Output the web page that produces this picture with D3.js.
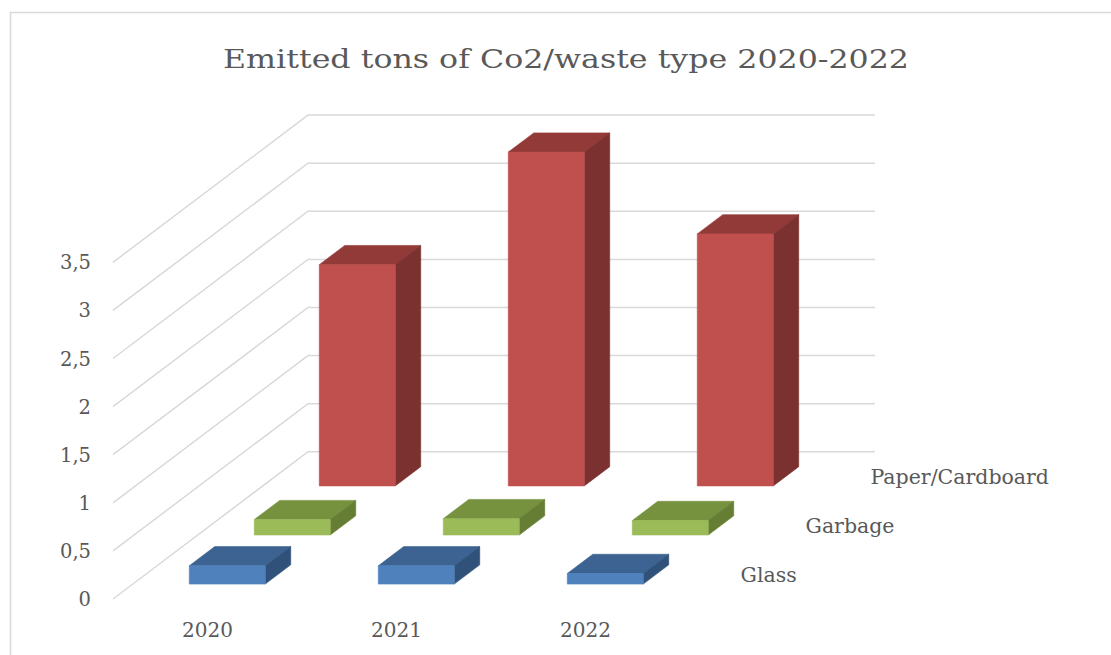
<!DOCTYPE html>
<html>
<head>
<meta charset="utf-8">
<script src="https://cdn.jsdelivr.net/npm/d3@7"></script>
<style>
  html, body { margin: 0; padding: 0; background: #fff; }
  svg { display: block; }
</style>
</head>
<body>
<svg id="chart" width="1111" height="655"></svg>
<script>
// ---- data ----
const years = ["2020", "2021", "2022"];
const seriesNames = ["Glass", "Garbage", "Paper/Cardboard"];
const glass = [0.19, 0.19, 0.11];
const garbage = [0.16, 0.17, 0.15];
const paper = [2.30, 3.47, 2.62];
const yTicks = [0, 0.5, 1, 1.5, 2, 2.5, 3, 3.5];
const yTickLabels = ["0", "0,5", "1", "1,5", "2", "2,5", "3", "3,5"];
const titleText = "Emitted tons of Co2/waste type 2020-2022";

// ---- styles ----
const colors = {
  "Glass": { front: "#4F81BD", top: "#3C6391", side: "#30527A" },
  "Garbage": { front: "#9BBB59", top: "#77923F", side: "#657E33" },
  "Paper/Cardboard": { front: "#C0504D", top: "#923A38", side: "#7B3130" }
};
const textColor = "#595959";
const gridColor = "#D9D9D9";
const fontFamily = "'DejaVu Serif', 'Liberation Serif', serif";

// ---- layout ----
const originX = 113, originY = 599;   // front-left floor corner
const plotW = 567;                    // front width
const depthW = 195;                   // total depth (in x units)
const depthSlope = 0.755;             // y rise per depth unit
const plotH = 336.7;

const svg = d3.select("#chart");

const x = d3.scaleBand(years, [0, plotW]).paddingInner(0.598).paddingOuter(0.299);
const z = d3.scaleBand(seriesNames, [0, depthW]).paddingInner(0.608).paddingOuter(0.304);
const y = d3.scaleLinear([0, 3.5], [0, plotH]);

function proj(px, v, d) {
  return [originX + px + d, originY - y(v) - d * depthSlope];
}

// chart border
svg.append("path")
  .attr("d", `M10.5,700 L10.5,12.5 L1200,12.5`)
  .attr("fill", "none")
  .attr("stroke", gridColor)
  .attr("stroke-width", 1.5);

// title
const title = svg.append("text")
  .attr("x", 566)
  .attr("y", 68)
  .attr("text-anchor", "middle")
  .attr("font-family", fontFamily)
  .attr("font-size", 26)
  .attr("fill", textColor)
  .text(titleText);
const tw = title.node().getComputedTextLength();
if (Math.abs(tw - 686) > 4) title.attr("textLength", 686).attr("lengthAdjust", "spacingAndGlyphs");

// gridlines on side wall + back wall
const grid = svg.append("g");
yTicks.forEach(t => {
  const a = proj(0, t, 0);
  const b = proj(0, t, depthW);
  const c = proj(plotW, t, depthW);
  grid.append("path")
    .attr("d", d3.line()([a, b, c]))
    .attr("fill", "none")
    .attr("stroke", gridColor)
    .attr("stroke-width", 1.5);
});

// y tick labels
svg.append("g").selectAll("text")
  .data(yTicks)
  .join("text")
  .attr("x", originX - 22)
  .attr("y", t => proj(0, t, 0)[1])
  .attr("dy", "0.36em")
  .attr("text-anchor", "end")
  .attr("font-family", fontFamily)
  .attr("font-size", 19.5)
  .attr("fill", textColor)
  .text((t, i) => yTickLabels[i]);

// category labels
svg.append("g").selectAll("text")
  .data(years)
  .join("text")
  .attr("x", yr => proj(x(yr) + x.bandwidth() / 2, 0, 0)[0])
  .attr("y", originY + 38)
  .attr("text-anchor", "middle")
  .attr("font-family", fontFamily)
  .attr("font-size", 20)
  .attr("fill", textColor)
  .text(yr => yr);

// series labels (depth axis)
svg.append("g").selectAll("text")
  .data(seriesNames)
  .join("text")
  .attr("x", s => proj(plotW, 0, z(s) + z.bandwidth() / 2)[0] + 28)
  .attr("y", s => proj(plotW, 0, z(s) + z.bandwidth() / 2)[1])
  .attr("dy", "0.36em")
  .attr("text-anchor", "start")
  .attr("font-family", fontFamily)
  .attr("font-size", 20.5)
  .attr("fill", textColor)
  .text(s => s);

// bars (back to front)
const valuesBySeries = { "Glass": glass, "Garbage": garbage, "Paper/Cardboard": paper };
const bars = [];
seriesNames.forEach(s => {
  years.forEach((yr, i) => bars.push({ series: s, year: yr, value: valuesBySeries[s][i] }));
});
bars.sort((a, b) => (z(b.series) - z(a.series)) || (x(a.year) - x(b.year)));

const barG = svg.append("g");
bars.forEach(bd => {
  const x0 = x(bd.year), x1 = x0 + x.bandwidth();
  const d0 = z(bd.series), d1 = d0 + z.bandwidth();
  const v = bd.value;
  const col = colors[bd.series];
  const g = barG.append("g");
  const faces = [
    { pts: [proj(x0, v, d0), proj(x1, v, d0), proj(x1, v, d1), proj(x0, v, d1)], fill: col.top },
    { pts: [proj(x1, 0, d0), proj(x1, 0, d1), proj(x1, v, d1), proj(x1, v, d0)], fill: col.side },
    { pts: [proj(x0, 0, d0), proj(x1, 0, d0), proj(x1, v, d0), proj(x0, v, d0)], fill: col.front }
  ];
  faces.forEach(f => {
    g.append("path")
      .attr("d", d3.line()(f.pts) + "Z")
      .attr("fill", f.fill)
      .attr("stroke", f.fill)
      .attr("stroke-width", 0.6)
      .attr("stroke-linejoin", "round");
  });
});
</script>
</body>
</html>
